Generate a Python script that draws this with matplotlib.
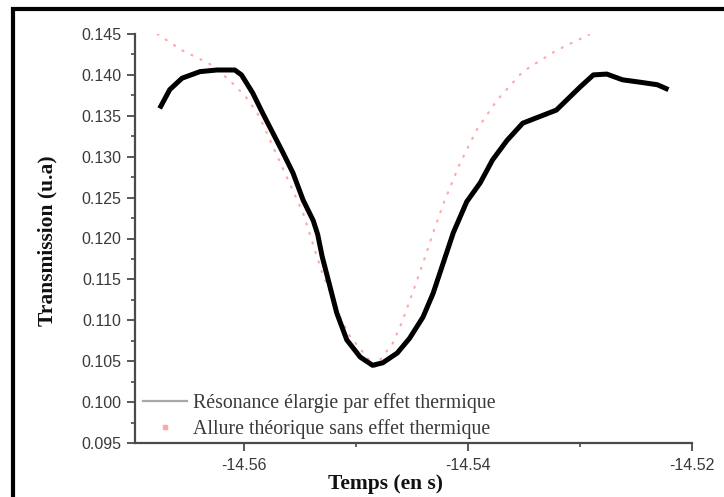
import matplotlib
matplotlib.use("Agg")
import matplotlib.pyplot as plt
from matplotlib.lines import Line2D
from matplotlib.patches import Rectangle
from matplotlib.ticker import MultipleLocator, FixedLocator, FormatStrFormatter

# Measured transmission (thermally broadened resonance)
t_mes = [-14.5675, -14.5666, -14.5655, -14.5639, -14.5624, -14.5608, -14.5602,
         -14.5592, -14.5583, -14.5574, -14.5565, -14.5556, -14.5547, -14.5538,
         -14.5534, -14.5530, -14.5523, -14.5517, -14.5508, -14.5496, -14.5485,
         -14.5476, -14.5463, -14.5452, -14.5440, -14.5431, -14.5422, -14.5413,
         -14.5401, -14.5389, -14.5378, -14.5365, -14.5351, -14.5336, -14.5321,
         -14.5312, -14.5300, -14.5288, -14.5276, -14.5262, -14.5246, -14.5231,
         -14.5221]
T_mes = [0.1359, 0.1382, 0.1396, 0.1404, 0.1406, 0.1406, 0.1400,
         0.1378, 0.1353, 0.1329, 0.1305, 0.1280, 0.1247, 0.1222,
         0.1205, 0.1178, 0.1141, 0.1109, 0.1076, 0.1055, 0.1045,
         0.1048, 0.1060, 0.1078, 0.1104, 0.1133, 0.1170, 0.1207,
         0.1245, 0.1268, 0.1296, 0.1320, 0.1341, 0.1349, 0.1357,
         0.1369, 0.1385, 0.1400, 0.1401, 0.1394, 0.1391, 0.1388,
         0.1382]

# Theoretical line shape without thermal effect
t_th = [-14.5677, -14.5655, -14.5631, -14.5613, -14.5598, -14.5586, -14.5547,
        -14.5530, -14.5514, -14.5505, -14.5483, -14.5467, -14.5459, -14.5450,
        -14.5440, -14.5431, -14.5422, -14.5407, -14.5392, -14.5374, -14.5351,
        -14.5321, -14.5292]
T_th = [0.1450, 0.1430, 0.1414, 0.1394, 0.1373, 0.1349, 0.1231,
        0.1158, 0.1104, 0.1080, 0.1043, 0.1072, 0.1097, 0.1131,
        0.1170, 0.1207, 0.1242, 0.1292, 0.1333, 0.1369, 0.1404,
        0.1430, 0.1449]

x_major = [-14.56, -14.54, -14.52]
x_minor = [-14.55, -14.53]
x_labels = ["-14.56", "-14.54", "-14.52"]

label_mes = "Résonance élargie par effet thermique"
label_th = "Allure théorique sans effet thermique"

sans = ["Liberation Sans", "DejaVu Sans"]
serif = ["Liberation Serif", "DejaVu Serif"]
grey = "#3a3a3a"

fig = plt.figure(figsize=(7.24, 4.97), dpi=100)
fig.patch.set_facecolor("white")
ax = fig.add_axes([135 / 724, 1 - 443 / 497, 557 / 724, 409 / 497])

ax.plot(t_th, T_th, color="#ffa8a8", lw=1.6, linestyle=(0, (0.5, 4.0)),
        dash_capstyle="round", zorder=2)
ax.plot(t_mes, T_mes, color="black", lw=3.6, solid_joinstyle="round",
        solid_capstyle="butt", zorder=3)

ax.set_xlim(-14.5697, -14.52)
ax.set_ylim(0.095, 0.145)

for s in ("top", "right"):
    ax.spines[s].set_visible(False)
for s in ("left", "bottom"):
    ax.spines[s].set_color("#4a4a4a")
    ax.spines[s].set_linewidth(1.6)

ax.xaxis.set_major_locator(FixedLocator(x_major))
ax.xaxis.set_minor_locator(FixedLocator(x_minor))
ax.set_xticklabels(x_labels)
ax.yaxis.set_major_locator(MultipleLocator(0.005))
ax.yaxis.set_minor_locator(MultipleLocator(0.0025))
ax.yaxis.set_major_formatter(FormatStrFormatter("%.3f"))

ax.tick_params(which="major", direction="out", length=6, width=1.3,
               color="#4a4a4a", labelcolor=grey, labelsize=11.5)
ax.tick_params(which="minor", direction="out", length=3, width=1.2,
               color="#4a4a4a")
ax.tick_params(axis="x", which="major", pad=5)
ax.tick_params(axis="y", which="major", pad=4)
for lab in ax.get_xticklabels() + ax.get_yticklabels():
    lab.set_family(sans)

ax.set_xlabel("Temps (en s)", family=serif, fontweight="bold", fontsize=15.5,
              color="#111111")
ax.set_ylabel("Transmission (u.a)", family=serif, fontweight="bold",
              fontsize=15.5, color="#111111")
ax.xaxis.set_label_coords(0.449, -0.077)
ax.yaxis.set_label_coords(-0.139, 0.494)

handles = [Line2D([], [], color="#a8a8a8", lw=1.6),
           Line2D([], [], color="#ffa8a8", marker="s", markersize=2.5, lw=0)]
leg = ax.legend(handles, [label_mes, label_th], loc="lower left",
                bbox_to_anchor=(0.014, 0.011), frameon=False,
                prop={"family": serif, "size": 14.3}, handlelength=2.25,
                handletextpad=0.26, labelspacing=0.3, borderpad=0,
                borderaxespad=0)
for txt in leg.get_texts():
    txt.set_color(grey)

# outer frame around the figure
fig.patches.append(Rectangle((12.5 / 724, -0.2), 1.2, 0.2 + (1 - 8.5 / 497),
                             transform=fig.transFigure, fill=False,
                             edgecolor="black", lw=3, zorder=10))

fig.savefig("out.png", dpi=100)
